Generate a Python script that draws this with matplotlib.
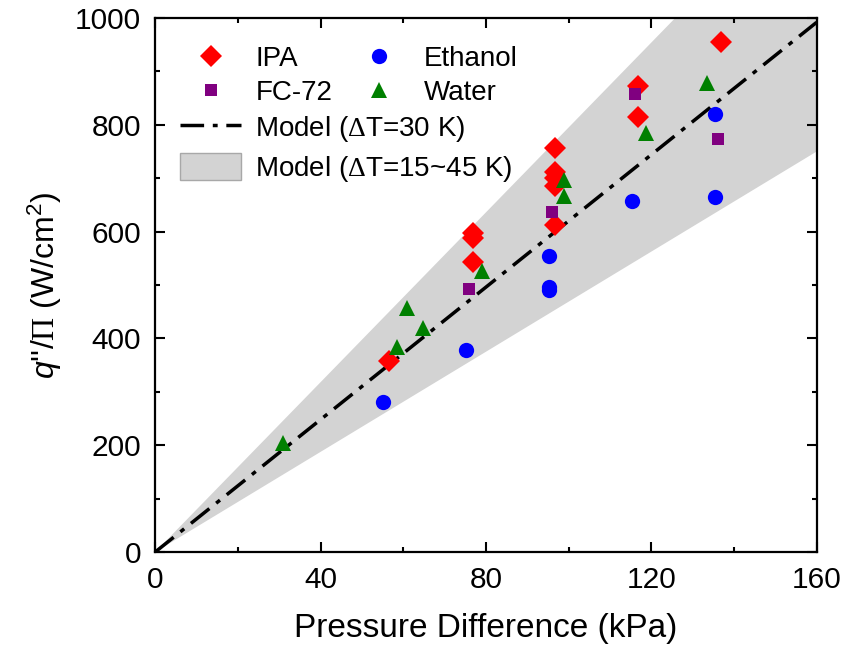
import matplotlib
matplotlib.use('Agg')
import matplotlib.pyplot as plt
from matplotlib.patches import Patch
from matplotlib.ticker import MultipleLocator

# pressure difference (kPa) and q''/Pi (W/cm2) for each fluid
ipa_x = [56.6, 76.9, 76.9, 76.9, 96.7, 96.7, 96.7, 96.7, 96.7, 116.7, 116.7, 136.8]
ipa_y = [358, 597, 588, 543, 757, 712, 700, 685, 612, 873, 815, 955]

ethanol_x = [55.2, 75.3, 95.3, 95.3, 95.3, 115.3, 135.3, 135.3]
ethanol_y = [281, 378, 554, 497, 491, 657, 820, 665]

fc72_x = [75.9, 95.9, 116.0, 136.1]
fc72_y = [492, 637, 857, 773]

water_x = [30.9, 58.6, 60.8, 64.9, 79.0, 99.0, 98.8, 118.8, 133.6]
water_y = [204, 384, 457, 419, 526, 697, 667, 785, 878]

# model lines through origin
model_x = [0, 160]
model_mid = [0, 992]
model_low = [0, 750]
model_high = [0, 1272]

plt.rcParams['font.family'] = ['Liberation Sans', 'DejaVu Sans']
plt.rcParams['mathtext.fontset'] = 'custom'
plt.rcParams['mathtext.rm'] = 'Liberation Serif'
plt.rcParams['mathtext.it'] = 'Liberation Sans:italic'
plt.rcParams['mathtext.sf'] = 'Liberation Sans'


def main():
    fig = plt.figure(figsize=(8.48, 6.56), dpi=100)
    ax = fig.add_axes([0.183, 0.1585, 0.78, 0.814])

    ax.fill_between(model_x, model_low, model_high, color='#d3d3d3', lw=0, zorder=1)
    line, = ax.plot(model_x, model_mid, color='black', lw=2.5, zorder=2)
    line.set_dashes([6.8, 2.5, 1.4, 2.5])

    kw = dict(ls='none', zorder=3, markeredgewidth=0)
    h_ipa, = ax.plot(ipa_x, ipa_y, marker='D', color='#ff0000', ms=11.5, label='IPA', **kw)
    h_eth, = ax.plot(ethanol_x, ethanol_y, marker='o', color='#0000ff', ms=11, label='Ethanol', **kw)
    h_fc, = ax.plot(fc72_x, fc72_y, marker='s', color='#800080', ms=9, label='FC-72', **kw)
    h_wat, = ax.plot(water_x, water_y, marker='^', color='#008000', ms=12, label='Water', **kw)

    ax.set_xlim(0, 160)
    ax.set_ylim(0, 1000)
    ax.xaxis.set_major_locator(MultipleLocator(40))
    ax.xaxis.set_minor_locator(MultipleLocator(20))
    ax.yaxis.set_major_locator(MultipleLocator(200))
    ax.yaxis.set_minor_locator(MultipleLocator(100))
    ax.tick_params(which='both', direction='in', top=True, right=True, width=1.5)
    ax.tick_params(which='major', length=7, labelsize=21.5, pad=10)
    ax.tick_params(which='minor', length=3.5)
    for s in ax.spines.values():
        s.set_linewidth(1.6)

    ax.set_xlabel('Pressure Difference (kPa)', fontsize=24, labelpad=14)
    ax.set_ylabel(r"$q$''/$\mathrm{\Pi}$ (W/cm$^{\mathsf{2}}$)", fontsize=23, labelpad=8)

    leg1 = ax.legend([h_ipa, h_fc, h_eth, h_wat], ['IPA', 'FC-72', 'Ethanol', 'Water'],
                     ncol=2, loc='center left', bbox_to_anchor=(0.038, 0.892),
                     frameon=False, fontsize=20, borderpad=0, borderaxespad=0,
                     handlelength=2.2, handletextpad=0.5, columnspacing=0.6,
                     labelspacing=0.3)
    ax.add_artist(leg1)
    band = Patch(facecolor='#d3d3d3', edgecolor='#a8a8a8', lw=1)
    ax.legend([line, band], [r'Model ($\Delta$T=30 K)', r'Model ($\Delta$T=15~45 K)'],
              loc='center left', bbox_to_anchor=(0.038, 0.755),
              frameon=False, fontsize=20, borderpad=0, borderaxespad=0,
              handlelength=2.2, handleheight=1.1, handletextpad=0.5,
              labelspacing=0.33)

    fig.savefig('out.png', dpi=100)


if __name__ == '__main__':
    main()
